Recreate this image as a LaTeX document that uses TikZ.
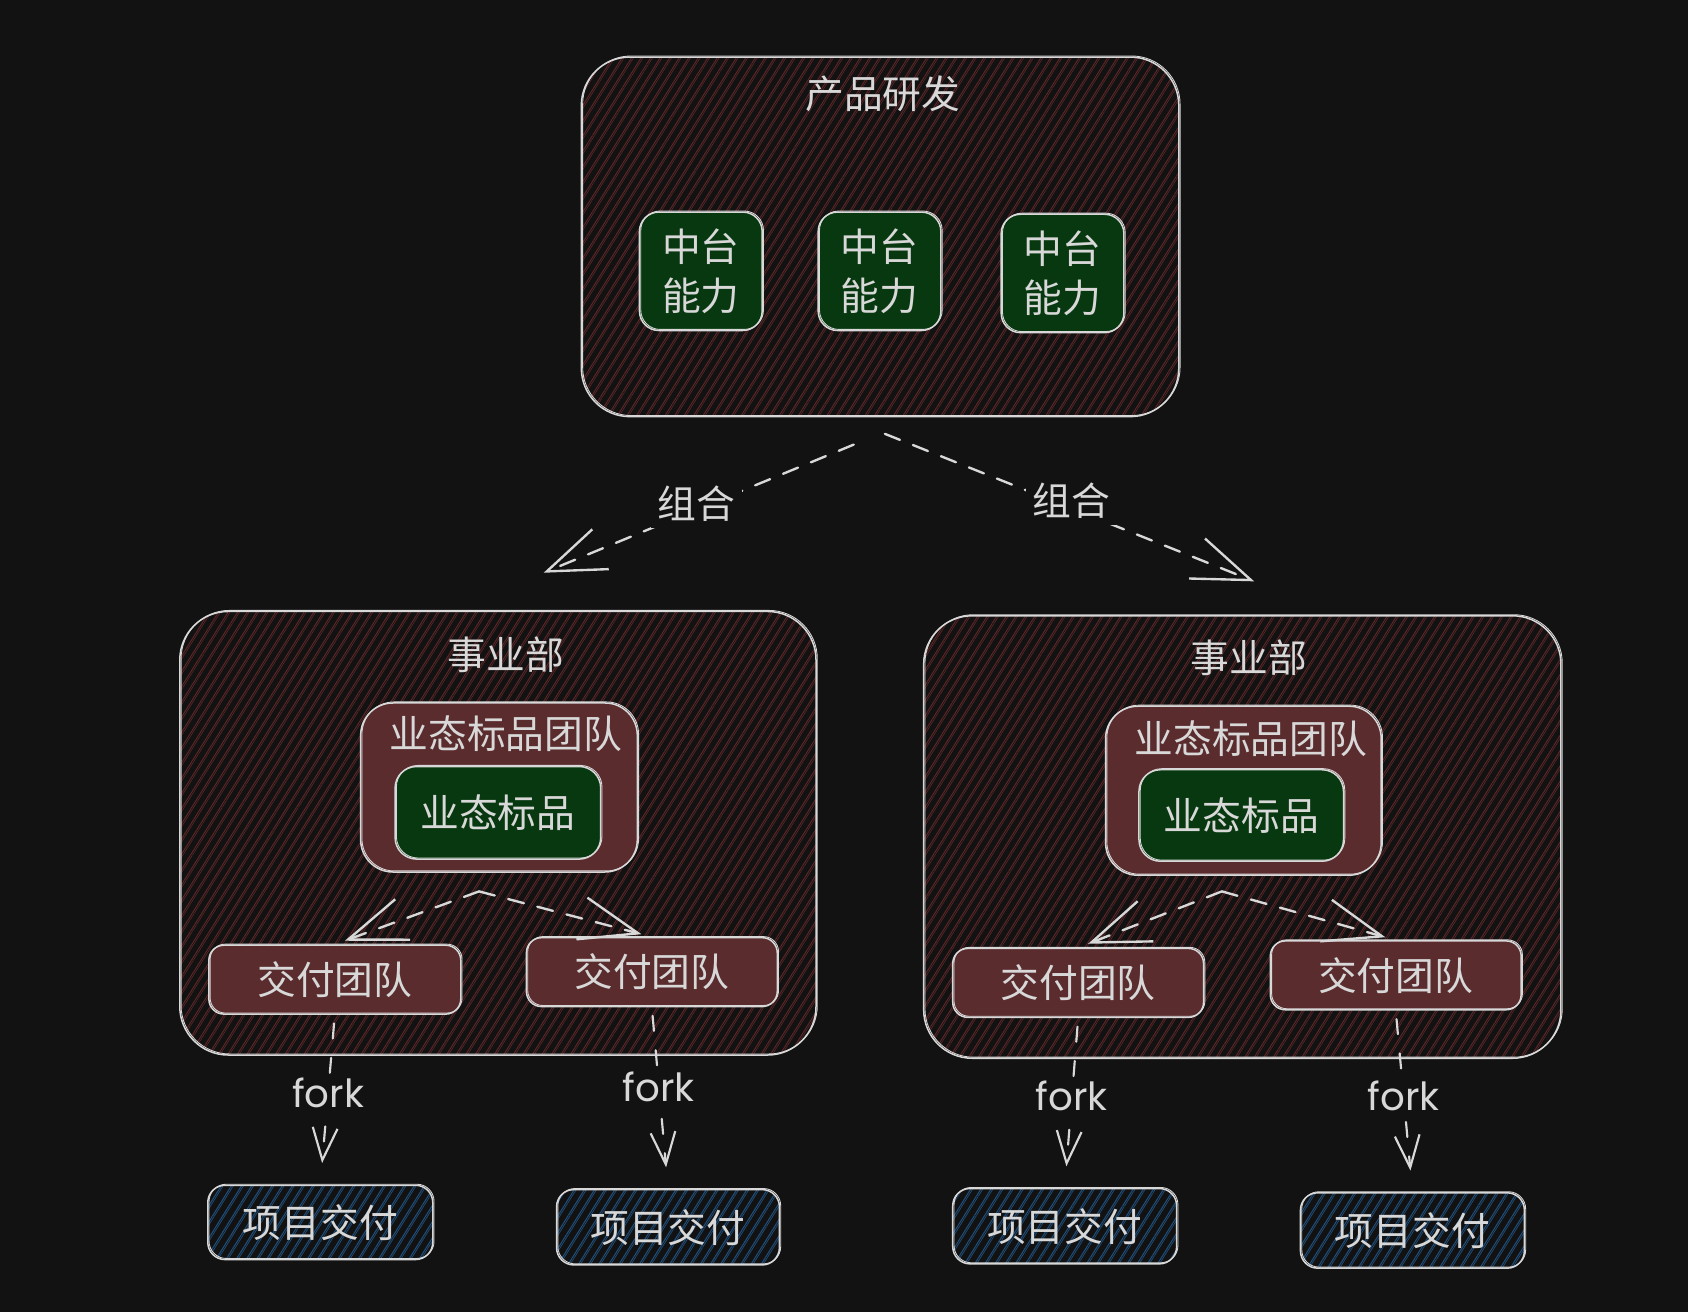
\documentclass[tikz,border=0pt]{standalone}
\usepackage{fontspec}
\newfontfamily\cjk{Noto Sans CJK SC}
\newfontfamily\hand{Poppins}
\usetikzlibrary{arrows.meta,patterns.meta}

\definecolor{bg}{HTML}{121212}
\definecolor{ink}{HTML}{D8D8D8}
\definecolor{hatchR}{HTML}{5C2628}
\definecolor{hatchB}{HTML}{1F4D78}
\definecolor{teamfill}{HTML}{5A2C2E}
\definecolor{greenfill}{HTML}{07380F}

\begin{document}
\begin{tikzpicture}[x=1pt,y=-1pt,
  box/.style={draw=ink, line width=1.4pt, rounded corners=#1, inner sep=0pt,
    postaction={draw=ink, line width=0.8pt, transform canvas={shift={(1.2pt,1pt)}}}},
  box/.default=18pt,
  redhatch/.style={
    preaction={pattern={Lines[angle=58,distance=7.5pt,line width=0.9pt]}, pattern color=hatchR},
    preaction={pattern={Lines[angle=58,distance=7.5pt,line width=0.6pt,xshift=1.8pt]}, pattern color=hatchR}},
  bluehatch/.style={
    preaction={pattern={Lines[angle=58,distance=8pt,line width=1pt]}, pattern color=hatchB},
    preaction={pattern={Lines[angle=58,distance=8pt,line width=0.7pt,xshift=1.8pt]}, pattern color=hatchB}},
  txt/.style={text=ink, font=\cjk\fontsize{36}{45}\selectfont, inner sep=2pt, align=center},
  forktxt/.style={text=ink, font=\hand\fontsize{36}{40}\selectfont, fill=bg, inner sep=3pt},
  arr/.style={draw=ink, line width=2.2pt, dash pattern=on 15pt off 13pt, line cap=round,
    -{Straight Barb[length=54pt,width=40pt,line width=2.2pt]}},
  forkarr/.style={draw=ink, line width=2pt, dash pattern=on 14pt off 18pt, line cap=round,
    shorten <=8pt, shorten >=20pt, -{Straight Barb[length=30pt,width=23pt,line width=2pt]}},
]
% canvas
\fill[bg] (0,0) rectangle (1568,1219);
\useasboundingbox (0,0) rectangle (1568,1219);

% product R&D container with three capability blocks
\node[box=45pt, redhatch, minimum width=555pt, minimum height=334pt] (top) at (817.5,220) {};
\node[txt] (toptitle) at (820,87) {产品研发};
\node[box=18pt, fill=greenfill, minimum width=114pt, minimum height=110pt] (cap1) at (651,252) {};
\node[box=18pt, fill=greenfill, minimum width=114pt, minimum height=110pt] (cap2) at (817,252) {};
\node[box=18pt, fill=greenfill, minimum width=114pt, minimum height=110pt] (cap3) at (987,254) {};
\node[txt] at (cap1) {中台\\能力};
\node[txt] at (cap2) {中台\\能力};
\node[txt] at (cap3) {中台\\能力};

% business units
\node[box=45pt, redhatch, minimum width=591pt, minimum height=412pt] (bizL) at (462.5,774) {};
\node[txt] (bizLt) at (470,608) {事业部};
\node[box=45pt, redhatch, minimum width=592pt, minimum height=411pt] (bizR) at (1154,777.5) {};
\node[txt] (bizRt) at (1160,611) {事业部};

% standard-product teams
\node[box=30pt, fill=teamfill, minimum width=257pt, minimum height=157pt] (teamL) at (463.5,731.5) {};
\node[txt] (teamLt) at (470,682) {业态标品团队};
\node[box=20pt, fill=greenfill, minimum width=191pt, minimum height=86pt] (prodL) at (462.5,755) {};
\node[txt] at (prodL) {业态标品};

\node[box=30pt, fill=teamfill, minimum width=256pt, minimum height=157pt] (teamR) at (1155,734.5) {};
\node[txt] (teamRt) at (1162,686) {业态标品团队};
\node[box=20pt, fill=greenfill, minimum width=190pt, minimum height=85pt] (prodR) at (1153,757.5) {};
\node[txt] at (prodR) {业态标品};

% delivery teams
\node[box=14pt, fill=teamfill, minimum width=234pt, minimum height=64pt] (dL1) at (311,910) {};
\node[txt] at (dL1) {交付团队};
\node[box=14pt, fill=teamfill, minimum width=233pt, minimum height=64pt] (dL2) at (605.5,903) {};
\node[txt] at (dL2) {交付团队};
\node[box=14pt, fill=teamfill, minimum width=233pt, minimum height=64pt] (dR1) at (1001.5,913) {};
\node[txt] at (dR1) {交付团队};
\node[box=14pt, fill=teamfill, minimum width=233pt, minimum height=64pt] (dR2) at (1296.5,906) {};
\node[txt] at (dR2) {交付团队};

% project deliveries
\node[box=16pt, bluehatch, minimum width=209pt, minimum height=69pt] (pL1) at (297.5,1135.5) {};
\node[txt] at (pL1) {项目交付};
\node[box=16pt, bluehatch, minimum width=207pt, minimum height=70pt] (pL2) at (620.5,1140) {};
\node[txt] at (pL2) {项目交付};
\node[box=16pt, bluehatch, minimum width=208pt, minimum height=70pt] (pR1) at (989,1139) {};
\node[txt] at (pR1) {项目交付};
\node[box=16pt, bluehatch, minimum width=208pt, minimum height=70pt] (pR2) at (1312,1143) {};
\node[txt] at (pR2) {项目交付};

% composition arrows
\coordinate (cL) at (793,413);
\coordinate (cR) at (822,403);
\coordinate (cLend) at (505,532);
\coordinate (cRend) at (1165,540);
\draw[arr] (cL) -- (cLend);
\draw[arr] (cR) -- (cRend);
\node[txt, fill=bg, inner sep=6pt] (lblL) at (647,468) {组合};
\node[txt, fill=bg, inner sep=6pt] (lblR) at (995,465) {组合};

% split arrows towards delivery teams
\coordinate (sL) at (445,828);
\coordinate (sR) at (1135,828);
\draw[arr, shorten >=10pt] (sL) -- (dL1.north);
\draw[arr, shorten >=10pt] (sL) -- (dL2.north);
\draw[arr, shorten >=10pt] (sR) -- (dR1.north);
\draw[arr, shorten >=10pt] (sR) -- (dR2.north);

% fork arrows
\draw[forkarr] (dL1.south) -- (pL1.north) node[forktxt, pos=0.46] {fork};
\draw[forkarr] (dL2.south) -- (pL2.north) node[forktxt, pos=0.44] {fork};
\draw[forkarr] (dR1.south) -- (pR1.north) node[forktxt, pos=0.46] {fork};
\draw[forkarr] (dR2.south) -- (pR2.north) node[forktxt, pos=0.47] {fork};
\end{tikzpicture}
\end{document}
